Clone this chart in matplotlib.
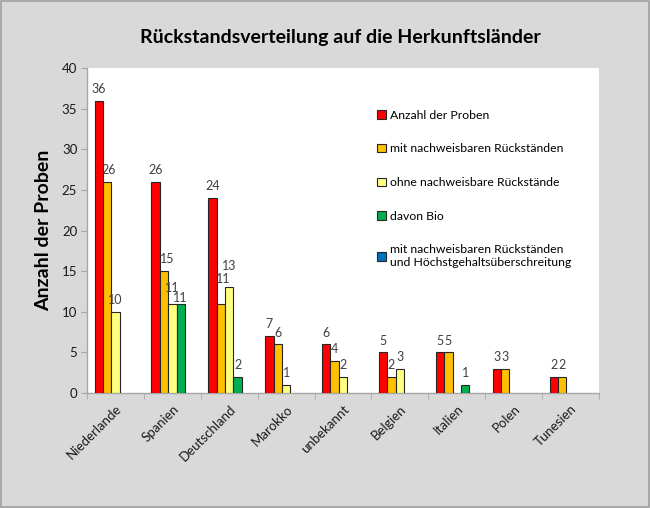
import matplotlib.pyplot as plt
import matplotlib.transforms as mtransforms
from matplotlib.patches import Rectangle
import numpy as np

plt.rcParams['font.family'] = ['Lato', 'DejaVu Sans']

laender = ['Niederlande', 'Spanien', 'Deutschland', 'Marokko', 'unbekannt',
           'Belgien', 'Italien', 'Polen', 'Tunesien']
anzahl = [36, 26, 24, 7, 6, 5, 5, 3, 2]
mit_rueckstand = [26, 15, 11, 6, 4, 2, 5, 3, 2]
ohne_rueckstand = [10, 11, 13, 1, 2, 3, 0, 0, 0]
bio = [0, 11, 2, 0, 0, 0, 1, 0, 0]
ueberschreitung = [0, 0, 0, 0, 0, 0, 0, 0, 0]

reihen = [
    ('Anzahl der Proben', anzahl, '#FF0000'),
    ('mit nachweisbaren Rückständen', mit_rueckstand, '#FFC000'),
    ('ohne nachweisbare Rückstände', ohne_rueckstand, '#FFFF80'),
    ('davon Bio', bio, '#00B050'),
    ('mit nachweisbaren Rückständen\nund Höchstgehaltsüberschreitung', ueberschreitung, '#0070C0'),
]

# Beschriftungen, die wie im Original versetzt stehen (Reihe, Land): (dx, dy) in px
label_abstand = {(1, 0): (2, 11.7), (1, 1): (3, 11.7), (2, 1): (0, 16),
                 (3, 1): (0, 6), (1, 2): (2, 25), (2, 2): (0, 21.5)}

fig = plt.figure(figsize=(6.5, 5.08), dpi=100, facecolor='#D9D9D9')
ax = fig.add_axes([87 / 650, 115 / 508, 512 / 650, 325 / 508])
ax.set_facecolor('white')

breite = 0.147
x = np.arange(len(laender))
for k, (name, werte, farbe) in enumerate(reihen):
    werte = np.array(werte)
    pos = x + (k - 2) * breite
    sichtbar = werte > 0
    ax.bar(pos[sichtbar], werte[sichtbar], width=breite, color=farbe,
           edgecolor='#262626', linewidth=0.8, zorder=3)
    for i in np.where(sichtbar)[0]:
        ax.annotate(str(werte[i]), (pos[i], werte[i]),
                    xytext=label_abstand.get((k, i), (0, 11.7)),
                    textcoords='offset pixels', ha='center', va='center',
                    fontsize=9, color='#404040')
    # Legendeneintrag
    ax.bar([np.nan], [np.nan], color=farbe, edgecolor='#262626', linewidth=0.8,
           label=name)

ax.set_xlim(-0.5, len(laender) - 0.5)
ax.set_ylim(0, 40)
ax.set_yticks(range(0, 41, 5))
ax.set_xticks(x)
ax.set_xticks(np.arange(-0.5, len(laender), 1), minor=True)
ax.set_xticklabels(laender, rotation=45, ha='right', va='top',
                   rotation_mode='anchor', fontsize=9.5, color='#1a1a1a')
offset = mtransforms.ScaledTranslation(4 / 72, 0, fig.dpi_scale_trans)
for lbl in ax.get_xticklabels():
    lbl.set_transform(lbl.get_transform() + offset)
ax.tick_params(axis='x', which='major', length=0, pad=7)
ax.tick_params(axis='x', which='minor', length=4, color='#A6A6A6', direction='out')
ax.tick_params(axis='y', length=4, color='#A6A6A6', labelsize=9.5,
               labelcolor='#1a1a1a', pad=3)

for s in ['top', 'right']:
    ax.spines[s].set_visible(False)
for s in ['left', 'bottom']:
    ax.spines[s].set_color('#A6A6A6')
    ax.spines[s].set_linewidth(1)

ax.set_ylabel('Anzahl der Proben', fontsize=14, fontweight='bold', labelpad=7)
fig.text(340 / 650, 1 - 37 / 508, 'Rückstandsverteilung auf die Herkunftsländer',
         ha='center', va='center', fontsize=14, fontweight='bold')

ax.legend(loc='upper left', bbox_to_anchor=(0.545, 0.905), frameon=False,
          fontsize=8.8, labelspacing=1.85, handlelength=0.7, handleheight=0.7,
          handletextpad=0.35)

fig.patches.append(Rectangle((0.001, 0.001), 0.997, 0.997, transform=fig.transFigure,
                             fill=False, edgecolor='#A0A0A0', linewidth=1.2))

fig.savefig('out.png', dpi=100, facecolor=fig.get_facecolor())
